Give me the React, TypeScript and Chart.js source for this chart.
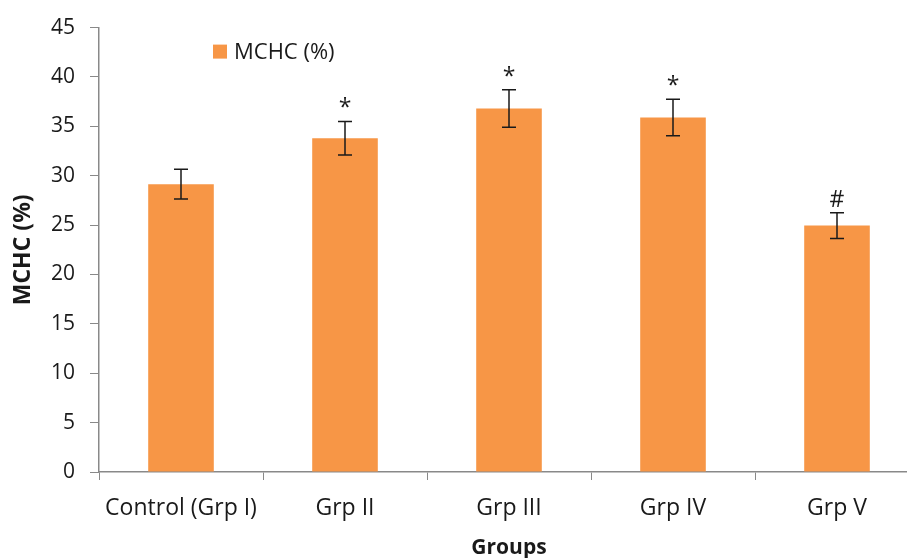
import React, { useEffect, useRef } from "react";
import { Chart, registerables } from "chart.js";

Chart.register(...registerables);

const categories = ["Control (Grp I)", "Grp II", "Grp III", "Grp IV", "Grp V"];
const mchcValues = [29.15, 33.8, 36.8, 35.9, 24.95];
const mchcErrors = [1.5, 1.7, 1.9, 1.85, 1.3];
const sigLabels = ["", "*", "*", "*", "#"];
const seriesName = "MCHC (%)";
const yTitle = "MCHC (%)";
const xTitle = "Groups";

const FONT = "'Open Sans', 'Noto Sans', sans-serif";
const BAR_COLOR = "#F79646";
const AXIS_COLOR = "#898989";
const TEXT_COLOR = "#1a1a1a";

const errorBarPlugin = {
  id: "errorBars",
  afterDatasetsDraw(chart: any) {
    const { ctx, scales } = chart;
    const xs = scales.x;
    const ys = scales.y;
    ctx.save();
    ctx.strokeStyle = "#1a1a1a";
    ctx.lineWidth = 1.5;
    mchcValues.forEach((v, i) => {
      const x = xs.getPixelForValue(i);
      const top = ys.getPixelForValue(v + mchcErrors[i]);
      const bot = ys.getPixelForValue(v - mchcErrors[i]);
      ctx.beginPath();
      ctx.moveTo(x, top);
      ctx.lineTo(x, bot);
      ctx.moveTo(x - 7, top);
      ctx.lineTo(x + 7, top);
      ctx.moveTo(x - 7, bot);
      ctx.lineTo(x + 7, bot);
      ctx.stroke();
      if (sigLabels[i]) {
        ctx.fillStyle = TEXT_COLOR;
        ctx.textAlign = "center";
        ctx.textBaseline = "alphabetic";
        ctx.font = `23px ${FONT}`;
        ctx.fillText(sigLabels[i], x, top - 6);
      }
    });
    ctx.restore();
  },
};

const legendPlugin = {
  id: "customLegend",
  afterDraw(chart: any) {
    const { ctx, chartArea } = chart;
    ctx.save();
    const sx = chartArea.left + 114;
    const sy = chartArea.top + 17;
    ctx.fillStyle = BAR_COLOR;
    ctx.fillRect(sx, sy, 14, 14);
    ctx.fillStyle = TEXT_COLOR;
    ctx.font = `22px ${FONT}`;
    ctx.textAlign = "left";
    ctx.textBaseline = "middle";
    ctx.fillText(seriesName, sx + 21, sy + 8);
    ctx.restore();
  },
};

export default function App() {
  const ref = useRef<HTMLCanvasElement | null>(null);
  useEffect(() => {
    if (!ref.current) return;
    const chart = new Chart(ref.current, {
      type: "bar",
      data: {
        labels: categories,
        datasets: [
          {
            label: seriesName,
            data: mchcValues,
            backgroundColor: BAR_COLOR,
            borderWidth: 0,
            categoryPercentage: 0.4,
            barPercentage: 1.0,
          },
        ],
      },
      options: {
        animation: false,
        responsive: false,
        devicePixelRatio: 1,
        layout: { padding: { left: 0, right: 11, top: 25, bottom: 0 } },
        plugins: {
          legend: { display: false },
          tooltip: { enabled: false },
        },
        scales: {
          x: {
            grid: {
              drawOnChartArea: false,
              drawTicks: true,
              tickLength: 8,
              color: AXIS_COLOR,
              offset: true,
            },
            border: { color: AXIS_COLOR, width: 1.5 },
            ticks: {
              color: TEXT_COLOR,
              font: { family: FONT, size: 23 },
              padding: 15,
              maxRotation: 0,
              autoSkip: false,
            },
            title: {
              display: true,
              text: xTitle,
              color: TEXT_COLOR,
              font: { family: FONT, size: 21, weight: "bold" },
              padding: { top: 8, bottom: -3 },
            },
            afterFit(scale: any) {
              scale.height = 86;
            },
          },
          y: {
            min: 0,
            max: 45,
            ticks: {
              stepSize: 5,
              color: TEXT_COLOR,
              font: { family: FONT, size: 21 },
              padding: 15,
            },
            grid: {
              drawOnChartArea: false,
              drawTicks: true,
              tickLength: 9,
              color: AXIS_COLOR,
            },
            border: { color: AXIS_COLOR, width: 1.5 },
            title: {
              display: true,
              text: yTitle,
              color: TEXT_COLOR,
              font: { family: FONT, size: 23, weight: "bold" },
              padding: { top: 10, bottom: 0 },
            },
            afterFit(scale: any) {
              scale.width = 99;
            },
          },
        },
      },
      plugins: [errorBarPlugin, legendPlugin],
    });
    return () => chart.destroy();
  }, []);
  return (
    <div
      style={{
        position: "fixed",
        left: 0,
        top: 0,
        width: 907,
        height: 558,
        overflow: "hidden",
        background: "#fff",
      }}
    >
      <canvas ref={ref} width={930} height={558} style={{ display: "block" }} />
    </div>
  );
}
